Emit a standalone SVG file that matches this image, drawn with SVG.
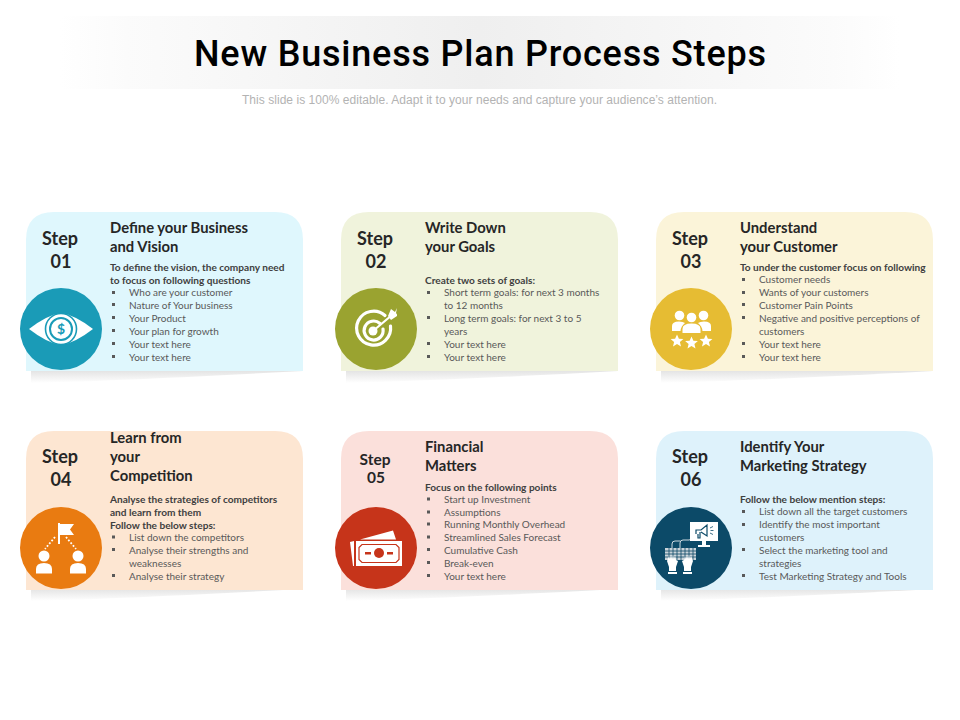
<svg xmlns="http://www.w3.org/2000/svg" xmlns:xlink="http://www.w3.org/1999/xlink" width="960" height="720" viewBox="0 0 960 720">
<style>
text{font-family:"Lato","Open Sans","Liberation Sans",sans-serif}
.title{font-family:"Roboto","Liberation Sans",sans-serif;font-size:36px;font-weight:500;fill:#000}
.sub{font-family:"Liberation Sans",Arial,sans-serif;font-size:12px;fill:#b3b3b3}
.step{font-size:18px;font-weight:700;fill:#262626;text-anchor:middle}
.h{font-size:14.8px;font-weight:700;fill:#262626}
.b{font-size:10.1px;font-weight:700;fill:#404040}
.l{font-size:10px;fill:#595959}
.w{fill:#fff}
</style>
<defs>
<linearGradient id="tg" x1="0" x2="1" y1="0" y2="0"><stop offset="0" stop-color="#fff"/><stop offset="0.08" stop-color="#fbfbfb"/><stop offset="0.5" stop-color="#efefef"/><stop offset="0.92" stop-color="#fbfbfb"/><stop offset="1" stop-color="#fff"/></linearGradient>
<linearGradient id="sg" x1="0" x2="0" y1="0" y2="1"><stop offset="0" stop-color="#e4e4e4"/><stop offset="1" stop-color="#fff"/></linearGradient>
<path id="shadow" d="M31,371H303C210,376 110,381 31,383Z" fill="url(#sg)"/>
<path id="card" d="M26,371V240Q26,212 54,212H275Q303,212 303,240V371Z"/>
<rect id="bu" width="3" height="3" fill="#595959"/>
<path id="star" d="M0,-6.5L1.9,-2.2L6.4,-2L2.9,1L4,5.5L0,3.1L-4,5.5L-2.9,1L-6.4,-2L-1.9,-2.2Z" fill="#fff"/>
</defs>
<rect width="960" height="720" fill="#fff"/>
<g id="header">
<rect x="60" y="16" width="840" height="73" fill="url(#tg)"/>
<text class="title" x="194" y="66" textLength="572" lengthAdjust="spacing">New Business Plan Process Steps</text>
<text class="sub" x="242" y="104" textLength="475" lengthAdjust="spacing">This slide is 100% editable. Adapt it to your needs and capture your audience’s attention.</text>
</g>
<g id="connectors"/>

<g id="step-01">
<use xlink:href="#shadow"/><use xlink:href="#card" fill="#dff7fd"/>
<text class="step" x="60" y="245">Step</text><text class="step" x="61" y="268">01</text>
<text class="h" x="110" y="233">Define your Business</text><text class="h" x="110" y="252">and Vision</text>
<text class="b" x="110" y="271">To define the vision, the company need</text><text class="b" x="110" y="284">to focus on following questions</text>
<g transform="translate(0,-1)">
<use xlink:href="#bu" x="112" y="292"/><text class="l" x="129" y="297">Who are your customer</text>
<use xlink:href="#bu" x="112" y="304"/><text class="l" x="129" y="309.5">Nature of Your business</text>
<use xlink:href="#bu" x="112" y="317"/><text class="l" x="129" y="322.5">Your Product</text>
<use xlink:href="#bu" x="112" y="330"/><text class="l" x="129" y="335.5">Your plan for growth</text>
<use xlink:href="#bu" x="112" y="343"/><text class="l" x="129" y="348.5">Your text here</text>
<use xlink:href="#bu" x="112" y="356"/><text class="l" x="129" y="361.5">Your text here</text>
</g>
<circle cx="61" cy="329" r="41" fill="#1a9bb7"/>
<path class="w" d="M29,329Q47,315 61,313Q75,315 93,329Q75,343 61,345Q47,343 29,329Z"/>
<circle cx="61" cy="329" r="15.5" fill="none" stroke="#1a9bb7" stroke-width="1.6"/>
<circle cx="61" cy="329" r="11" fill="none" stroke="#1a9bb7" stroke-width="2"/>
<text x="61" y="334" font-size="14" font-weight="700" fill="#1a9bb7" text-anchor="middle">$</text>
</g>

<g id="step-02">
<use xlink:href="#shadow" x="315"/><use xlink:href="#card" x="315" fill="#f0f3dc"/>
<text class="step" x="375" y="245">Step</text><text class="step" x="376" y="268">02</text>
<text class="h" x="425" y="233">Write Down</text><text class="h" x="425" y="252">your Goals</text>
<text class="b" x="425" y="284">Create two sets of goals:</text>
<g transform="translate(0,-1)">
<use xlink:href="#bu" x="427" y="292"/><text class="l" x="444" y="297">Short term goals: for next 3 months</text>
<text class="l" x="444" y="310">to 12 months</text>
<use xlink:href="#bu" x="427" y="317"/><text class="l" x="444" y="322.5">Long term goals: for next 3 to 5</text>
<text class="l" x="444" y="335.5">years</text>
<use xlink:href="#bu" x="427" y="343"/><text class="l" x="444" y="348.5">Your text here</text>
<use xlink:href="#bu" x="427" y="356"/><text class="l" x="444" y="361.5">Your text here</text>
</g>
<circle cx="376" cy="329" r="41" fill="#9aa330"/>
<path d="M385,315.5A17,17 0 1 0 390.500,326" fill="none" stroke="#fff" stroke-width="3.2" stroke-linecap="round"/>
<path d="M380,323.500A9.500,9.500 0 1 0 383,329" fill="none" stroke="#fff" stroke-width="3.2" stroke-linecap="round"/>
<circle cx="373" cy="331" r="4.500" class="w"/>
<path d="M373,331L392,315" stroke="#fff" stroke-width="2.2" stroke-linecap="round"/>
<path class="w" d="M388,316L391,309L395,312L397,308L396,313L397,314.500L397,316L391,320Z"/>
</g>

<g id="step-03">
<use xlink:href="#shadow" x="630"/><use xlink:href="#card" x="630" fill="#fbf4d9"/>
<text class="step" x="690" y="245">Step</text><text class="step" x="691" y="268">03</text>
<text class="h" x="740" y="233">Understand</text><text class="h" x="740" y="252">your Customer</text>
<text class="b" x="740" y="271">To under the customer focus on following</text>
<g transform="translate(0,-1)">
<use xlink:href="#bu" x="742" y="279"/><text class="l" x="759" y="284">Customer needs</text>
<use xlink:href="#bu" x="742" y="292"/><text class="l" x="759" y="297">Wants of your customers</text>
<use xlink:href="#bu" x="742" y="304"/><text class="l" x="759" y="309.5">Customer Pain Points</text>
<use xlink:href="#bu" x="742" y="317"/><text class="l" x="759" y="322.5">Negative and positive perceptions of</text>
<text class="l" x="759" y="335.5">customers</text>
<use xlink:href="#bu" x="742" y="343"/><text class="l" x="759" y="348.5">Your text here</text>
<use xlink:href="#bu" x="742" y="356"/><text class="l" x="759" y="361.5">Your text here</text>
</g>
<circle cx="691" cy="329" r="41" fill="#e6bc33"/>
<g class="w">
<circle cx="679.500" cy="315.500" r="4.800"/><circle cx="703.500" cy="315.500" r="4.800"/><circle cx="691.500" cy="317.500" r="4.800"/>
<path d="M672,331V326Q672,321.500 679,321.500Q683,321.500 685,323Q681,326 680.500,331Z"/>
<path d="M711,331V326Q711,321.500 704,321.500Q700,321.500 698,323Q702,326 702.500,331Z"/>
<path d="M682.500,333V329Q682.500,323.500 691.500,323.500Q700.500,323.500 700.500,329V333Z"/>
</g>
<use xlink:href="#star" x="677" y="341"/><use xlink:href="#star" x="691.500" y="343"/><use xlink:href="#star" x="706" y="341"/>
</g>

<g id="step-04">
<use xlink:href="#shadow" y="218"/><use xlink:href="#card" y="219" fill="#fde6d2"/>
<text class="step" x="60" y="463">Step</text><text class="step" x="61" y="486">04</text>
<text class="h" x="110" y="443">Learn from</text><text class="h" x="110" y="462">your</text><text class="h" x="110" y="481">Competition</text>
<text class="b" x="110" y="503">Analyse the strategies of competitors</text><text class="b" x="110" y="516">and learn from them</text><text class="b" x="110" y="529">Follow the below steps:</text>
<g transform="translate(0,-1)">
<use xlink:href="#bu" x="112" y="536.500"/><text class="l" x="129" y="541.500">List down the competitors</text>
<use xlink:href="#bu" x="112" y="549"/><text class="l" x="129" y="554.500">Analyse their strengths and</text>
<text class="l" x="129" y="567.500">weaknesses</text>
<use xlink:href="#bu" x="112" y="575"/><text class="l" x="129" y="580.500">Analyse their strategy</text>
</g>
<circle cx="61" cy="548" r="41" fill="#e97b11"/>
<rect x="58" y="523" width="2" height="21" class="w"/>
<path class="w" d="M60,524H74L70,529.500L74,535H60Z"/>
<path d="M55,537L45,549M66,537L76,549" fill="none" stroke="#fff" stroke-width="1.800" stroke-dasharray="1.800 1.800"/>
<circle cx="44" cy="556" r="5.500" class="w"/><circle cx="78" cy="556" r="5.500" class="w"/>
<path class="w" d="M36,573.500V569Q36,563 44,563Q52,563 52,569V573.500Z"/>
<path class="w" d="M70,573.500V569Q70,563 78,563Q86,563 86,569V573.500Z"/>
</g>

<g id="step-05">
<use xlink:href="#shadow" x="315" y="218"/><use xlink:href="#card" x="315" y="219" fill="#fbe0db"/>
<text class="step" x="375" y="465" style="font-size:15.500px">Step</text><text class="step" x="376" y="483" style="font-size:15.500px">05</text>
<text class="h" x="425" y="452">Financial</text><text class="h" x="425" y="471">Matters</text>
<text class="b" x="425" y="490.500">Focus on the following points</text>
<g transform="translate(0,-1)">
<use xlink:href="#bu" x="427" y="498.500"/><text class="l" x="444" y="503.500">Start up Investment</text>
<use xlink:href="#bu" x="427" y="511.500"/><text class="l" x="444" y="516.500">Assumptions</text>
<use xlink:href="#bu" x="427" y="523.500"/><text class="l" x="444" y="529">Running Monthly Overhead</text>
<use xlink:href="#bu" x="427" y="536.500"/><text class="l" x="444" y="541.500">Streamlined Sales Forecast</text>
<use xlink:href="#bu" x="427" y="549"/><text class="l" x="444" y="554.500">Cumulative Cash</text>
<use xlink:href="#bu" x="427" y="562"/><text class="l" x="444" y="567.500">Break-even</text>
<use xlink:href="#bu" x="427" y="575"/><text class="l" x="444" y="580.500">Your text here</text>
</g>
<circle cx="376" cy="548" r="41" fill="#c6341a"/>
<path class="w" d="M350,542L354,541V566H353ZM360,539.500L393,530.500L396,539.500Z"/>
<rect x="356" y="541" width="46" height="25" class="w"/>
<path d="M362,544.500H396L399,547.500V559.500L396,562.500H362L359,559.500V547.500Z" fill="none" stroke="#c6341a" stroke-width="1.200"/>
<circle cx="379" cy="553" r="5" fill="#c6341a"/>
<rect x="365" y="552" width="6" height="2.500" fill="#c6341a"/><rect x="387" y="552" width="6" height="2.500" fill="#c6341a"/>
</g>

<g id="step-06">
<use xlink:href="#shadow" x="630" y="218"/><use xlink:href="#card" x="630" y="219" fill="#def2fb"/>
<text class="step" x="690" y="463">Step</text><text class="step" x="691" y="486">06</text>
<text class="h" x="740" y="452">Identify Your</text><text class="h" x="740" y="471">Marketing Strategy</text>
<text class="b" x="740" y="503">Follow the below mention steps:</text>
<g transform="translate(0,-1)">
<use xlink:href="#bu" x="742" y="511"/><text class="l" x="759" y="516">List down all the target customers</text>
<use xlink:href="#bu" x="742" y="524"/><text class="l" x="759" y="529">Identify the most important</text>
<text class="l" x="759" y="541.500">customers</text>
<use xlink:href="#bu" x="742" y="549"/><text class="l" x="759" y="554.500">Select the marketing tool and</text>
<text class="l" x="759" y="567.500">strategies</text>
<use xlink:href="#bu" x="742" y="575"/><text class="l" x="759" y="580.500">Test Marketing Strategy and Tools</text>
</g>
<circle cx="691" cy="548" r="41" fill="#0c4a68"/>
<rect x="690" y="522" width="28" height="19" class="w"/>
<path class="w" d="M702,541H706V545H710V547H698V545H702Z"/>
<path d="M696,534V530H701L707,525V536L701,532M698,534V538H700V532" fill="none" stroke="#0c4a68" stroke-width="1.200"/>
<path d="M710,528L713,526.500M710.500,530.500H713.500M710,533L713,534.500" stroke="#0c4a68" stroke-width="0.800"/>
<path d="M680,548V543Q680,540 683,540H689Q692,540 692,537V534" fill="none" stroke="#fff" stroke-width="0.800"/>
<path d="M672,548V544Q672,541 675,541H680" fill="none" stroke="#fff" stroke-width="0.800"/>
<rect x="665" y="548" width="31" height="12" fill="#c9d3d9"/>
<path d="M665,551H696M665,554H696M665,557H696M669,548V560M673,548V560M677,548V560M681,548V560M685,548V560M689,548V560M693,548V560" stroke="#0c4a68" stroke-width="0.800"/>
<path class="w" d="M667,561L669,556L670,559L671,555L672,559L673,555L674,559L675,556L676,560L678,561L676,567V571H669V567Z"/>
<path class="w" d="M693,561L691,556L690,559L689,555L688,559L687,555L686,559L685,556L684,560L682,561L684,567V571H691V567Z"/>
<rect x="668" y="572" width="9" height="2" class="w"/><rect x="683" y="572" width="9" height="2" class="w"/>
</g>
</svg>
